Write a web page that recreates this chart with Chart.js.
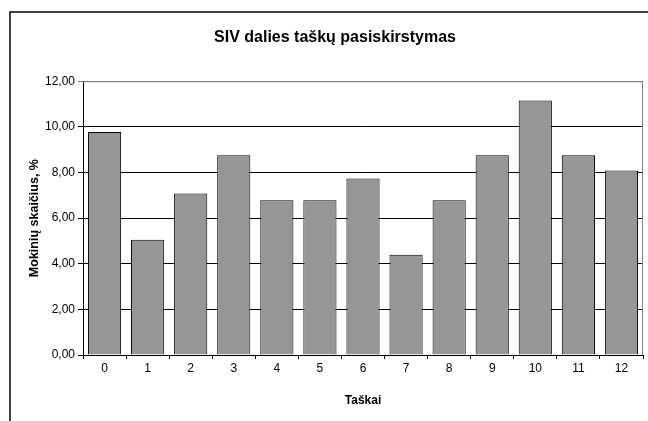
<!DOCTYPE html>
<html>
<head>
<meta charset="utf-8">
<script src="https://cdn.jsdelivr.net/npm/chart.js@4/dist/chart.umd.min.js"></script>
<style>
  html, body { margin: 0; padding: 0; background: #fff; }
  #wrap { width: 648px; height: 421px; position: relative; }
</style>
</head>
<body>
<div id="wrap"><canvas id="c" width="648" height="421"></canvas></div>
<script>
const categories = ['0','1','2','3','4','5','6','7','8','9','10','11','12'];
const values = [9.77, 5.05, 7.08, 8.76, 6.78, 6.78, 7.74, 4.39, 6.78, 8.76, 11.15, 8.76, 8.09];
const yTicks = [0, 2, 4, 6, 8, 10, 12];
const chartTitle = 'SIV dalies taškų pasiskirstymas';
const xTitle = 'Taškai';
const yTitle = 'Mokinių skaičius, %';

const FONT = 'Liberation Sans, Arial, sans-serif';

const framePlugin = {
  id: 'frame',
  beforeDraw(chart) {
    const ctx = chart.ctx;
    ctx.save();
    ctx.fillStyle = '#fff';
    ctx.fillRect(0, 0, chart.width, chart.height);
    ctx.strokeStyle = '#000';
    ctx.lineWidth = 1.5;
    ctx.strokeRect(10, 12, 700, 500);
    ctx.restore();
  },
  beforeDatasetsDraw(chart) {
    const {ctx, chartArea: a} = chart;
    ctx.save();
    ctx.strokeStyle = '#808080';
    ctx.lineWidth = 1;
    ctx.beginPath();
    ctx.moveTo(a.left, a.top + 0.5);
    ctx.lineTo(a.right - 0.5, a.top + 0.5);
    ctx.lineTo(a.right - 0.5, a.bottom);
    ctx.stroke();
    ctx.restore();
  }
};

new Chart(document.getElementById('c'), {
  type: 'bar',
  data: {
    labels: categories,
    datasets: [{
      data: values,
      backgroundColor: '#969696',
      borderColor: '#000',
      borderWidth: 1,
      barPercentage: 0.77,
      categoryPercentage: 1
    }]
  },
  plugins: [framePlugin],
  options: {
    responsive: false,
    animation: false,
    devicePixelRatio: 1,
    layout: { padding: { left: 27, right: 5, top: 0, bottom: 0 } },
    plugins: {
      legend: { display: false },
      tooltip: { enabled: false },
      title: {
        display: true,
        text: chartTitle,
        color: '#000',
        font: { family: FONT, size: 16, weight: 'bold' },
        padding: { top: 28, bottom: 34 }
      }
    },
    scales: {
      x: {
        offset: true,
        afterFit(s) { s.height = 66; },
        grid: {
          display: true,
          offset: true,
          drawOnChartArea: false,
          drawTicks: true,
          tickLength: 4,
          color: '#000'
        },
        border: { display: true, color: '#000', width: 1 },
        ticks: {
          color: '#000',
          padding: 2,
          maxRotation: 0,
          font: { family: FONT, size: 12 }
        },
        title: {
          display: true,
          text: xTitle,
          color: '#000',
          font: { family: FONT, size: 12, weight: 'bold' },
          padding: { top: 0, bottom: 13 }
        }
      },
      y: {
        min: 0,
        max: 12,
        afterFit(s) { s.width = 56; },
        afterBuildTicks(s) { s.ticks = yTicks.map(v => ({ value: v })); },
        grid: {
          color: (c) => (c.tick && c.tick.value === 12) ? '#808080' : '#000',
          tickLength: 5,
          lineWidth: 1
        },
        border: { display: true, color: '#000', width: 1 },
        ticks: {
          color: '#000',
          padding: 3,
          font: { family: FONT, size: 12 },
          callback: (v) => Number(v).toFixed(2).replace('.', ',')
        },
        title: {
          display: true,
          text: yTitle,
          color: '#000',
          font: { family: FONT, size: 12.5, weight: 'bold' },
          padding: { top: 0, bottom: 0 }
        }
      }
    }
  }
});
</script>
</body>
</html>
